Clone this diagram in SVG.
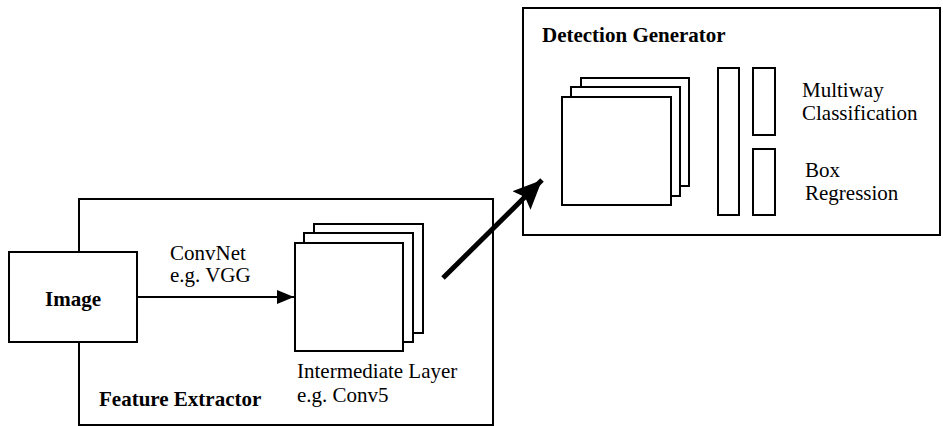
<svg xmlns="http://www.w3.org/2000/svg" width="943" height="426" viewBox="0 0 943 426">
  <style>
    .box { fill: #fff; stroke: #000; stroke-width: 2; }
    .txt { font-family: "Liberation Serif", "Times New Roman", serif; font-size: 21px; fill: #000; }
    .bold { font-weight: bold; }
  </style>
  <defs>
    <marker id="arrowSmall" markerUnits="userSpaceOnUse" markerWidth="18" markerHeight="14" refX="17" refY="7" orient="auto">
      <path d="M0,0 L17,7 L0,14 Z" fill="#000"/>
    </marker>
    <marker id="arrowBig" markerUnits="userSpaceOnUse" markerWidth="30" markerHeight="26" refX="29" refY="13" orient="auto">
      <path d="M0,0 L29,13 L0,26 L5,13 Z" fill="#000"/>
    </marker>
  </defs>

  <!-- Feature extractor container -->
  <g id="feature-extractor">
    <rect class="box" x="79" y="199" width="414" height="226"/>
    <text class="txt bold" x="99" y="406">Feature Extractor</text>
  </g>

  <!-- Input image -->
  <g id="image">
    <rect class="box" x="9" y="252" width="128" height="90" stroke-width="2.5"/>
    <text class="txt bold" x="73" y="306" font-size="25" text-anchor="middle">Image</text>
  </g>

  <!-- Intermediate feature maps -->
  <g id="intermediate-layer">
    <rect class="box" x="314" y="224" width="109" height="109"/>
    <rect class="box" x="304" y="233" width="109" height="109"/>
    <rect class="box" x="295" y="243" width="108" height="108"/>
    <text class="txt" x="297" y="378">Intermediate Layer</text>
    <text class="txt" x="297" y="402">e.g. Conv5</text>
  </g>

  <!-- Detection generator container -->
  <g id="detection-generator">
    <rect class="box" x="523" y="8" width="417" height="227"/>
    <text class="txt bold" x="542" y="42">Detection Generator</text>
  </g>

  <!-- Detection feature maps -->
  <g id="detection-maps">
    <rect class="box" x="581" y="78" width="108" height="108"/>
    <rect class="box" x="571" y="87" width="109" height="109"/>
    <rect class="box" x="562" y="97" width="109" height="108"/>
  </g>

  <!-- Fully connected layers -->
  <g id="fc-layer">
    <rect class="box" x="718" y="68" width="21" height="147"/>
  </g>
  <g id="multiway-classification">
    <rect class="box" x="753" y="68" width="22" height="67"/>
    <text class="txt" x="802" y="97">Multiway</text>
    <text class="txt" x="802" y="120">Classification</text>
  </g>
  <g id="box-regression">
    <rect class="box" x="753" y="149" width="22" height="66"/>
    <text class="txt" x="805" y="177">Box</text>
    <text class="txt" x="805" y="200">Regression</text>
  </g>

  <!-- Connectors -->
  <g id="connectors">
    <line x1="137" y1="297" x2="294" y2="297" stroke="#000" stroke-width="2" marker-end="url(#arrowSmall)"/>
    <text class="txt" x="170" y="260">ConvNet</text>
    <text class="txt" x="170" y="282">e.g. VGG</text>
    <line x1="443" y1="278" x2="542" y2="180" stroke="#000" stroke-width="5" marker-end="url(#arrowBig)"/>
  </g>
</svg>
